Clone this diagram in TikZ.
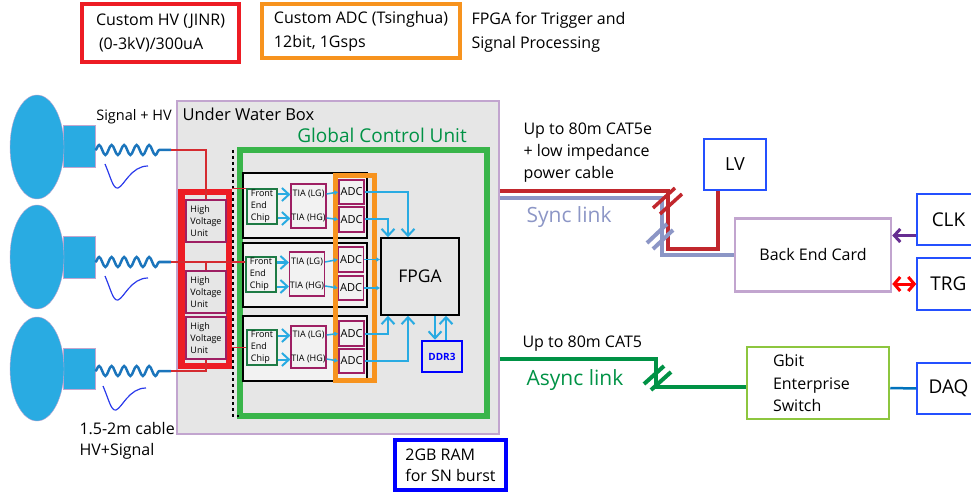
\documentclass[tikz,border=0pt]{standalone}
\usepackage{fontspec}
\setmainfont{Open Sans}
\usetikzlibrary{shapes.geometric,arrows.meta,decorations.pathmorphing}

\definecolor{pmtblue}{HTML}{29ABE2}
\definecolor{wireblue}{HTML}{1B75BC}
\definecolor{pulseblue}{HTML}{2B3BEB}
\definecolor{hvred}{HTML}{ED1C24}
\definecolor{hvwirecol}{HTML}{D52B30}
\definecolor{unitred}{HTML}{9E1F63}
\definecolor{fegreen}{HTML}{1E7B45}
\definecolor{sigblue}{HTML}{29ABE2}
\definecolor{adcorange}{HTML}{F7931E}
\definecolor{gcugreen}{HTML}{39B54A}
\definecolor{gcutext}{HTML}{009245}
\definecolor{uwbline}{HTML}{C2A5CF}
\definecolor{uwbgray}{HTML}{E6E6E6}
\definecolor{boardgray}{HTML}{F2F2F2}
\definecolor{synccol}{HTML}{8C96C6}
\definecolor{powercol}{HTML}{C1272D}
\definecolor{asynccol}{HTML}{009245}
\definecolor{switchgreen}{HTML}{8DC63F}
\definecolor{extblue}{HTML}{2450FF}
\definecolor{clkpurple}{HTML}{662D91}
\definecolor{trgred}{HTML}{FF0000}
\definecolor{daqblue}{HTML}{0072BC}
\definecolor{ramblue}{HTML}{0000FF}

\tikzset{
  txt/.style={font=\fontsize{16}{22}\selectfont},
  smalltxt/.style={font=\fontsize{9}{12}\selectfont},
  block/.style={rectangle, draw, inner sep=0pt, align=center},
  board/.style={rectangle, draw, fill=boardgray, line width=1.5pt, minimum width=124pt, minimum height=65pt},
  fechip/.style={block, draw=fegreen, fill=boardgray, line width=1.2pt, minimum width=30pt, minimum height=35pt, align=left, smalltxt},
  tia/.style={block, draw=unitred, line width=1.2pt, minimum width=35pt, minimum height=44pt, smalltxt},
  adc/.style={block, draw=unitred, fill=boardgray, line width=1.2pt, minimum width=25pt, minimum height=24pt, font=\fontsize{11}{13}\selectfont},
  hvunit/.style={block, draw=unitred, fill=uwbgray, line width=1.2pt, minimum width=40pt, minimum height=42pt, align=left, smalltxt},
  extbox/.style={block, draw=extblue, line width=1.5pt, minimum width=63pt, minimum height=51pt, font=\fontsize{19}{22}\selectfont},
  wave/.style={draw=wireblue, line width=2.5pt, decorate, decoration={snake, segment length=12.5pt, amplitude=5pt, post length=6pt}},
  pulse/.style={draw=pulseblue, line width=1.2pt},
  hvwire/.style={draw=hvwirecol, line width=1.2pt},
  sig/.style={draw=sigblue, line width=2pt, -{Straight Barb[length=7pt,width=13pt]}},
  sigsmall/.style={draw=sigblue, line width=1.5pt, -{Latex[length=4pt,width=5pt]}},
  power/.style={draw=powercol, line width=3.5pt},
  sync/.style={draw=synccol, line width=4pt},
  async/.style={draw=asynccol, line width=4pt},
}

\begin{document}
\begin{tikzpicture}[x=1pt,y=-1pt]
\useasboundingbox (0,0) rectangle (971,494);

% legend boxes
\node[block, draw=hvred, line width=3.5pt, minimum width=157pt, minimum height=58pt, align=left, font=\fontsize{16}{24}\selectfont] (hvlegend) at (160.5,33) {Custom HV (JINR)\\\hspace*{3pt}(0-3kV)/300uA};
\node[block, draw=adcorange, line width=3.5pt, minimum width=198pt, minimum height=54pt, align=left, font=\fontsize{16}{24}\selectfont] (adclegend) at (361,31) {Custom ADC (Tsinghua)\\12bit, 1Gsps};
\node[anchor=west, align=left, font=\fontsize{16}{24}\selectfont] (fpgalegend) at (468,32) {FPGA for Trigger and\\Signal Processing};

% under water box
\node[rectangle, draw=uwbline, fill=uwbgray, line width=1.5pt, minimum width=322pt, minimum height=333pt] (uwb) at (338,267.5) {};
\node[anchor=west, font=\fontsize{16.5}{20}\selectfont] (uwblabel) at (179,114) {Under Water Box};

% pmt nodes
\node[rectangle, draw=uwbline, fill=pmtblue, minimum width=32pt, minimum height=42pt] (neck1) at (79,146) {};
\node[ellipse, draw=uwbline, fill=pmtblue, minimum width=54pt, minimum height=104pt] (pmt1) at (37,147) {};
\node[rectangle, draw=uwbline, fill=pmtblue, minimum width=32pt, minimum height=42pt] (neck2) at (79,257) {};
\node[ellipse, draw=uwbline, fill=pmtblue, minimum width=54pt, minimum height=104pt] (pmt2) at (37,257) {};
\node[rectangle, draw=uwbline, fill=pmtblue, minimum width=32pt, minimum height=41pt] (neck3) at (79,368.5) {};
\node[ellipse, draw=uwbline, fill=pmtblue, minimum width=54pt, minimum height=104pt] (pmt3) at (37,369) {};

\node[font=\fontsize{14.5}{17}\selectfont] (sighv) at (134,117) {Signal + HV};
\node[anchor=west, align=left, font=\fontsize{16}{21}\selectfont] (cablelabel) at (76,441) {1.5-2m cable\\HV+Signal};

% signal cables
\coordinate (sig1) at (171,150);
\coordinate (sig2) at (171,262);
\coordinate (sig3) at (171,371);
\draw[wave] (neck1.east |- sig1) -- (sig1);
\draw[wave] (neck2.east |- sig2) -- (sig2);
\draw[wave] (neck3.east |- sig3) -- (sig3);

% pulse shapes
\draw[pulse] (105,164) .. controls (111,178) and (113,189) .. (118,188) .. controls (124,186) and (131,166) .. (148,166);
\draw[pulse] (105,276) .. controls (111,290) and (113,301) .. (118,300) .. controls (124,298) and (131,278) .. (148,278);
\draw[pulse] (103,386) .. controls (109,400) and (111,411) .. (116,410) .. controls (122,408) and (129,388) .. (146,388);

% global control unit
\node[rectangle, draw=gcugreen, line width=6pt, minimum width=247pt, minimum height=266pt] (gcu) at (363.5,283) {};
\node[text=gcutext, font=\fontsize{19}{22}\selectfont] (gculabel) at (382,135) {Global Control Unit};
\draw[dashed, line width=1.2pt] (233,150) -- (233,416) -- (239,416);

% high voltage box
\node[rectangle, draw=hvred, line width=6.5pt, minimum width=47.5pt, minimum height=174pt] (hvbox) at (205.25,279) {};
\node[hvunit] (hvu1) at (206,221) {High\\Voltage\\Unit};
\node[hvunit] (hvu2) at (206,292) {High\\Voltage\\Unit};
\node[hvunit] (hvu3) at (206,338) {High\\Voltage\\Unit};

% boards
\node[board] (board1) at (305,205.5) {};
\node[board, minimum height=64pt] (board2) at (305,275) {};
\node[board] (board3) at (305,348.5) {};

% adc group
\node[rectangle, draw=adcorange, line width=5pt, minimum width=39pt, minimum height=205pt] (adcgroup) at (355,278) {};

% front end chips
\node[fechip] (fec1) at (262,206.5) {Front\\End\\Chip};
\node[fechip] (fec2) at (261,274.5) {Front\\End\\Chip};
\node[fechip] (fec3) at (262,347.5) {Front\\End\\Chip};

% tia nodes
\node[tia] (tia1) at (308.5,206) {TIA (LG)\\[12pt]TIA (HG)};
\node[tia] (tia2) at (307,274) {TIA (LG)\\[12pt]TIA (HG)};
\node[tia, minimum height=42pt] (tia3) at (308.5,347) {TIA (LG)\\[12pt]TIA (HG)};

% adc nodes
\node[adc] (adc1lg) at (351.5,192) {ADC};
\node[adc, minimum height=25pt] (adc1hg) at (351.5,219.5) {ADC};
\node[adc, minimum height=25pt] (adc2lg) at (351,259.5) {ADC};
\node[adc] (adc2hg) at (351,288) {ADC};
\node[adc, minimum height=25pt] (adc3lg) at (351.5,333.5) {ADC};
\node[adc] (adc3hg) at (351.5,361) {ADC};

% fpga and memory
\node[block, fill=uwbgray, line width=1.5pt, minimum width=78pt, minimum height=77pt, font=\fontsize{17.5}{20}\selectfont] (fpga) at (420,276.5) {FPGA};
\node[block, draw=ramblue, text=ramblue, line width=2.5pt, minimum width=40pt, minimum height=31pt, font=\bfseries\fontsize{10}{12}\selectfont] (ddr) at (442,356.5) {DDR3};
\node[block, draw=ramblue, line width=3.5pt, minimum width=111pt, minimum height=50pt, align=left, font=\fontsize{16}{21}\selectfont] (ramlegend) at (450.5,465) {2GB RAM\\for SN burst};

% high voltage wires
\draw[hvwire] (sig1) -| (hvu1.north);
\draw[hvwire] (sig2) -- (sig2 -| fec2.west);
\draw[hvwire] (hvu2.north |- sig2) -- (hvu2.north);
\draw[hvwire] (sig3) -| (hvu3.south);
\draw[hvwire] (hvbox.east |- fec1.north) -- (fec1.north west);
\draw[hvwire] (hvbox.east |- fec3.west) -- (fec3.west);

% front end to tia
\draw[sig] ([yshift=12pt]fec1.east) -- ([yshift=12pt]fec1.east -| tia1.west);
\draw[sig] ([yshift=-12pt]fec1.east) -- ([yshift=-12pt]fec1.east -| tia1.west);
\draw[sig] ([yshift=12pt]fec2.east) -- ([yshift=12pt]fec2.east -| tia2.west);
\draw[sig] ([yshift=-12pt]fec2.east) -- ([yshift=-12pt]fec2.east -| tia2.west);
\draw[sig] ([yshift=12pt]fec3.east) -- ([yshift=12pt]fec3.east -| tia3.west);
\draw[sig] ([yshift=-12pt]fec3.east) -- ([yshift=-12pt]fec3.east -| tia3.west);

% tia to adc
\draw[sigsmall] ([yshift=12pt]tia1.east) -- (adc1lg.west);
\draw[sigsmall] ([yshift=-12pt]tia1.east) -- (adc1hg.west);
\draw[sigsmall] ([yshift=12pt]tia2.east) -- (adc2lg.west);
\draw[sigsmall] ([yshift=-12pt]tia2.east) -- (adc2hg.west);
\draw[sigsmall] ([yshift=12pt]tia3.east) -- (adc3lg.west);
\draw[sigsmall] ([yshift=-12pt]tia3.east) -- (adc3hg.west);

% adc to fpga
\draw[sig] (adc1lg.east) -| ([xshift=-12pt]fpga.north);
\draw[sig] (adc1hg.east) -| ([xshift=-32pt]fpga.north);
\draw[sigsmall] (adc2lg.east) -- (adc2lg.east -| fpga.west);
\draw[sigsmall] (adc2hg.east) -- (adc2hg.east -| fpga.west);
\draw[sig] (adc3lg.east) -| ([xshift=-32pt]fpga.south);
\draw[sig] (adc3hg.east) -| ([xshift=-12pt]fpga.south);
\draw[sig] ([xshift=15pt]fpga.south) -- ([xshift=15pt]fpga.south |- ddr.north);
\draw[sig] ([xshift=4pt]ddr.north) -- ([xshift=4pt]ddr.north |- fpga.south);

% back end nodes
\node[extbox, font=\fontsize{18}{21}\selectfont, minimum width=62pt] (lv) at (735,164.5) {LV};
\node[block, draw=uwbline, line width=2.5pt, minimum width=156pt, minimum height=73pt, txt] (bec) at (813,255) {Back End Card};
\node[extbox] (clk) at (948.5,219.5) {CLK};
\node[extbox, minimum height=52pt] (trg) at (948.5,284) {TRG};
\node[block, draw=switchgreen, line width=2.5pt, minimum height=72pt, text width=90pt, inner xsep=26pt, align=left, font=\fontsize{16}{22.5}\selectfont] (switch) at (818,383) {Gbit\\Enterprise\\Switch};
\node[extbox] (daq) at (948.5,388.5) {DAQ};

% cable labels
\node[anchor=west, align=left, txt] (cat5e) at (520,153) {Up to 80m CAT5e\\+ low impedance\\power cable};
\node[anchor=west, text=synccol, font=\fontsize{21}{24}\selectfont] (synclabel) at (523,217) {Sync link};
\node[anchor=west, txt] (cat5) at (519,344) {Up to 80m CAT5};
\node[anchor=west, text=asynccol, font=\fontsize{21}{24}\selectfont] (asynclabel) at (523,380) {Async link};

% cables
\coordinate (pwrout) at (uwb.east |- 0,191);
\coordinate (syncout) at (uwb.east |- 0,198);
\coordinate (asyncout) at (uwb.east |- 0,359);
\draw[sync] (syncout) -| (662,255) -- (bec.west);
\draw[power] (pwrout) -| (668,249) -| ([xshift=-17pt]lv.south);
\draw[async] (asyncout) -| (656,387) -- (switch.west |- 0,387);

% break marks
\draw[power] (653,208) -- (675,188);
\draw[power] (660,214) -- (682,194);
\draw[sync] (647,243) -- (667,224);
\draw[sync] (653,249) -- (673,230);
\draw[async] (644,384) -- (664,366);
\draw[async] (651,390) -- (671,372);

% external links
\draw[clkpurple, line width=3pt, -{Straight Barb[length=6pt,width=13pt]}] ([yshift=-16pt]clk.west) -- ([yshift=-16pt]clk.west -| bec.east);
\draw[trgred, line width=3pt, {Straight Barb[length=6pt,width=14pt]}-{Straight Barb[length=6pt,width=14pt]}] (trg.west) -- (trg.west -| bec.east);
\draw[daqblue, line width=2.5pt] (switch.east |- 0,388) -- (daq.west);

\end{tikzpicture}
\end{document}
